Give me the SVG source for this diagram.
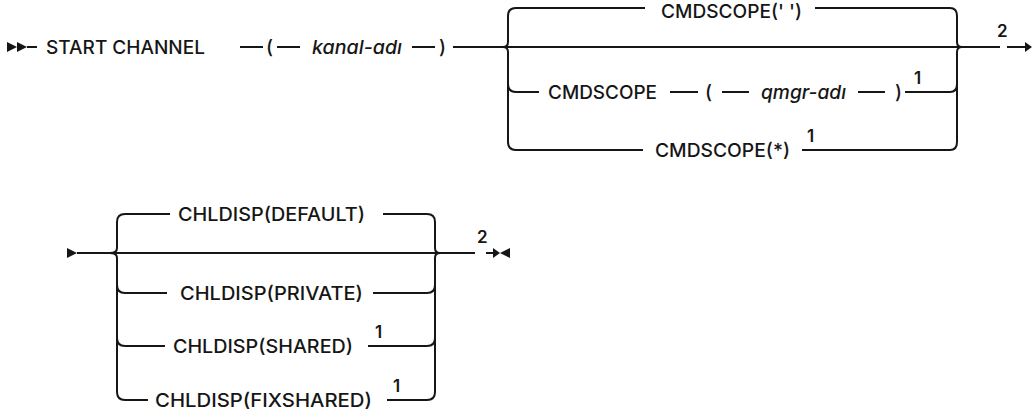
<svg xmlns="http://www.w3.org/2000/svg" width="1032" height="416" viewBox="0 0 1032 416">
<style>
.t{font-family:Inter,"Liberation Sans",Arial,sans-serif;font-size:19px;font-weight:500;fill:#161616}
.i{font-style:italic}
.s{font-family:Inter,"Liberation Sans",Arial,sans-serif;font-size:17px;font-weight:600;fill:#161616}
.l{fill:none;stroke:#161616;stroke-width:2}
.a{fill:#161616}
</style>
<rect width="1032" height="416" fill="#fff"/>
<g id="connectors">
<polygon class="a" points="7,42 17,47 7,52"/>
<polygon class="a" points="17,42 27,47 17,52"/>
<path class="l" d="M27,47 H37"/>
<path class="l" d="M240,47 H263 M277,47 H300 M412,47 H435"/>
<path class="l" d="M453,47 H1000"/>
<path class="l" d="M1007,47 H1026"/>
<polygon class="a" points="1025,42 1032,47 1025,52"/>
<path class="l" d="M503,47 Q508,47 508,42 V16 Q508,8 516,8 H645"/>
<path class="l" d="M815,8 H950 Q957,8 957,16 V42 Q957,47 962,47"/>
<path class="l" d="M503,47 Q508,47 508,52 V142 Q508,150 516,150 H643"/>
<path class="l" d="M802,150 H950 Q957,150 957,142 V52 Q957,47 962,47"/>
<path class="l" d="M508,84 Q508,92 516,92 H539"/>
<path class="l" d="M670,92 H698 M722,92 H749 M858,92 H885"/>
<path class="l" d="M905,92 H950 Q957,92 957,84"/>
<polygon class="a" points="67,248 77,253 67,258"/>
<path class="l" d="M77,253 H475"/>
<path class="l" d="M110,253 Q117,253 117,248 V222 Q117,214 125,214 H170"/>
<path class="l" d="M110,253 Q117,253 117,258 V392 Q117,400 125,400 H148"/>
<path class="l" d="M117,285 Q117,293 125,293 H167"/>
<path class="l" d="M117,338 Q117,346 125,346 H165"/>
<path class="l" d="M383,214 H427 Q435,214 435,222 V248 Q435,253 440,253"/>
<path class="l" d="M387,400 H427 Q435,400 435,392 V258 Q435,253 440,253"/>
<path class="l" d="M373,293 H427 Q435,293 435,285"/>
<path class="l" d="M368,346 H427 Q435,346 435,338"/>
<path class="l" d="M486,253 H494"/>
<polygon class="a" points="493,248 500,253 493,258"/>
<polygon class="a" points="510,248 500,253 510,258"/>
</g>
<g id="start-channel"><text class="t" x="46" y="53.8" textLength="159" lengthAdjust="spacingAndGlyphs">START CHANNEL</text></g>
<g id="lparen1"><text class="t" x="266" y="53.8">(</text></g>
<g id="kanal-adi"><text class="t i" x="312" y="53.8" textLength="90" lengthAdjust="spacingAndGlyphs">kanal-adı</text></g>
<g id="rparen1"><text class="t" x="439" y="53.8">)</text></g>
<g id="cmdscope-blank"><text class="t" x="661" y="17.5" textLength="141" lengthAdjust="spacingAndGlyphs">CMDSCOPE(' ')</text></g>
<g id="cmdscope-qmgr">
<text class="t" x="548" y="98.8" textLength="109" lengthAdjust="spacingAndGlyphs">CMDSCOPE</text>
<text class="t" x="705" y="98.8">(</text>
<text class="t i" x="761" y="98.8" textLength="85" lengthAdjust="spacingAndGlyphs">qmgr-adı</text>
<text class="t" x="895" y="98.8">)</text>
<text class="s" x="914" y="84">1</text>
</g>
<g id="cmdscope-star">
<text class="t" x="655" y="156.8" textLength="135" lengthAdjust="spacingAndGlyphs">CMDSCOPE(*)</text>
<text class="s" x="807" y="142">1</text>
</g>
<g id="note2-top"><text class="s" x="997" y="37">2</text></g>
<g id="chldisp-default"><text class="t" x="178" y="220.8" textLength="187" lengthAdjust="spacingAndGlyphs">CHLDISP(DEFAULT)</text></g>
<g id="chldisp-private"><text class="t" x="180" y="299.8" textLength="183" lengthAdjust="spacingAndGlyphs">CHLDISP(PRIVATE)</text></g>
<g id="chldisp-shared">
<text class="t" x="173" y="352.8" textLength="180" lengthAdjust="spacingAndGlyphs">CHLDISP(SHARED)</text>
<text class="s" x="375" y="338">1</text>
</g>
<g id="chldisp-fixshared">
<text class="t" x="155" y="406.8" textLength="217" lengthAdjust="spacingAndGlyphs">CHLDISP(FIXSHARED)</text>
<text class="s" x="393" y="392">1</text>
</g>
<g id="note2-bottom"><text class="s" x="477" y="243">2</text></g>
</svg>
